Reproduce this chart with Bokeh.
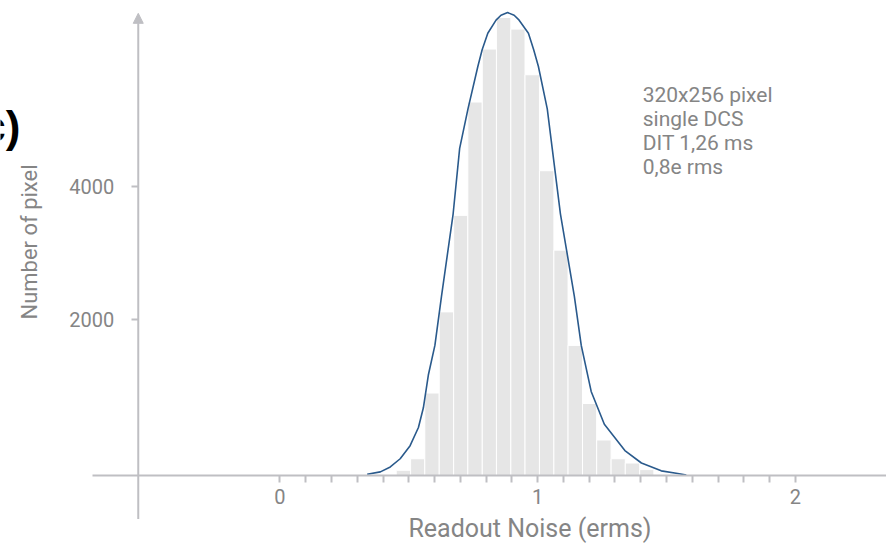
from bokeh.plotting import figure
from bokeh.models import Range1d, LinearAxis, FixedTicker, Arrow, NormalHead, Label
from bokeh.embed import file_html
from bokeh.resources import INLINE

# ---- data ----
bin_edges = [0.451, 0.507, 0.562, 0.618, 0.674, 0.729, 0.785, 0.840, 0.896, 0.951,
             1.007, 1.063, 1.118, 1.174, 1.229, 1.285, 1.340, 1.396, 1.451]
bar_tops = [-262, -89, 899, 2119, 3570, 5274, 6070, 6544, 6370, 5684,
            4241, 3047, 1615, 741, 193, -89, -153, -252]
baseline = -341

fit_x = [0.3385, 0.3896, 0.4281, 0.4665, 0.5050, 0.5373, 0.5565, 0.5758, 0.6012, 0.6269,
         0.6719, 0.6973, 0.7296, 0.7681, 0.7846, 0.8065, 0.8385, 0.8577, 0.8835,
         0.9088, 0.9281, 0.9642, 0.9846, 1.0027, 1.0373, 1.0565, 1.0885, 1.1423,
         1.1692, 1.2077, 1.2588, 1.3385, 1.4027, 1.4796, 1.5435, 1.5769]
fit_y = [-321, -286, -212, -89, 108, 381, 677, 1170, 1615, 2356,
         3590, 4578, 5170, 5812, 6059, 6307, 6504, 6578, 6618,
         6578, 6504, 6307, 6059, 5812, 5170, 4578, 3590, 2356,
         1615, 923, 430, 34, -153, -271, -311, -333]

x_major = [0, 1, 2]
x_minor = [0.1, 0.2, 0.3, 0.4, 0.5, 0.6, 0.7, 0.8, 0.9,
           1.1, 1.2, 1.3, 1.4, 1.5, 1.6, 1.7, 1.8, 1.9]
y_ticks = [2000, 4000]

x_title = "Readout Noise (erms)"
y_title = "Number of pixel"
note = "320x256 pixel\nsingle DCS\nDIT 1,26 ms\n0,8e rms"
panel_tag = "c)"

GRAY = "#bfbfc3"
TEXT = "#858585"
FONT = "Roboto"

p = figure(width=886, height=544,
           x_range=Range1d(-1.0846, 2.3538), y_range=Range1d(-1378, 6800),
           x_axis_type=None, y_axis_type=None,
           toolbar_location=None, output_backend="svg",
           min_border=0, outline_line_color=None)
p.styles = {"margin-bottom": "-8px"}

# histogram bars
p.quad(left=bin_edges[:-1], right=bin_edges[1:], bottom=baseline, top=bar_tops,
       fill_color="#e6e6e6", line_color="white", line_width=1)

# fitted curve
p.line(fit_x, fit_y, line_color="#2a5a8c", line_width=1.6, line_join="round")

# x axis line (full length)
xline = LinearAxis(fixed_location=baseline, bounds=(-0.726, 2.36),
                   ticker=FixedTicker(ticks=[]),
                   major_tick_line_color=None, minor_tick_line_color=None,
                   major_label_text_font_size="0px",
                   axis_line_color=GRAY, axis_line_width=2)
p.add_layout(xline, "below")

# x axis ticks and title
xaxis = LinearAxis(fixed_location=baseline, bounds=(-0.062, 2.0),
                   ticker=FixedTicker(ticks=x_major, minor_ticks=x_minor),
                   axis_line_color=None,
                   major_tick_in=0, major_tick_out=7,
                   minor_tick_in=0, minor_tick_out=7,
                   major_tick_line_color=GRAY, minor_tick_line_color=GRAY,
                   major_tick_line_width=2, minor_tick_line_width=2,
                   major_label_text_font=FONT, major_label_text_font_size="20px",
                   major_label_text_color=TEXT, major_label_standoff=6,
                   axis_label=x_title, axis_label_text_font=FONT,
                   axis_label_text_font_size="25px",
                   axis_label_text_font_style="normal",
                   axis_label_text_color=TEXT, axis_label_standoff=7)
p.add_layout(xaxis, "below")

# y axis ticks and title
yaxis = LinearAxis(fixed_location=-0.55, bounds=(1000, 5340),
                   ticker=FixedTicker(ticks=y_ticks),
                   axis_line_color=None,
                   major_tick_in=0, major_tick_out=7,
                   minor_tick_line_color=None,
                   major_tick_line_color=GRAY, major_tick_line_width=2,
                   major_label_text_font=FONT, major_label_text_font_size="20px",
                   major_label_text_color=TEXT, major_label_standoff=17,
                   axis_label=y_title, axis_label_text_font=FONT,
                   axis_label_text_font_size="22px",
                   axis_label_text_font_style="normal",
                   axis_label_text_color=TEXT, axis_label_standoff=25)
p.add_layout(yaxis, "left")

# y axis line with arrow
p.add_layout(Arrow(end=NormalHead(size=10, fill_color=GRAY, line_color=GRAY, line_width=1),
                   x_start=-0.55, y_start=-993, x_end=-0.55, y_end=6607,
                   line_color=GRAY, line_width=2))

# annotation text
p.add_layout(Label(x=1.4077, y=5556, text=note, text_font=FONT,
                   text_font_size="21px", text_color=TEXT,
                   text_baseline="top", text_align="left", text_line_height=1.0))

# panel tag (partly cut at left edge, as in the reference)
p.add_layout(Label(x=-1.0077, y=4904, text=panel_tag, text_font="Liberation Sans",
                   text_font_size="44px", text_font_style="bold", text_color="black",
                   text_baseline="middle", text_align="right"))

open("out.html", "w").write(file_html(p, INLINE))
